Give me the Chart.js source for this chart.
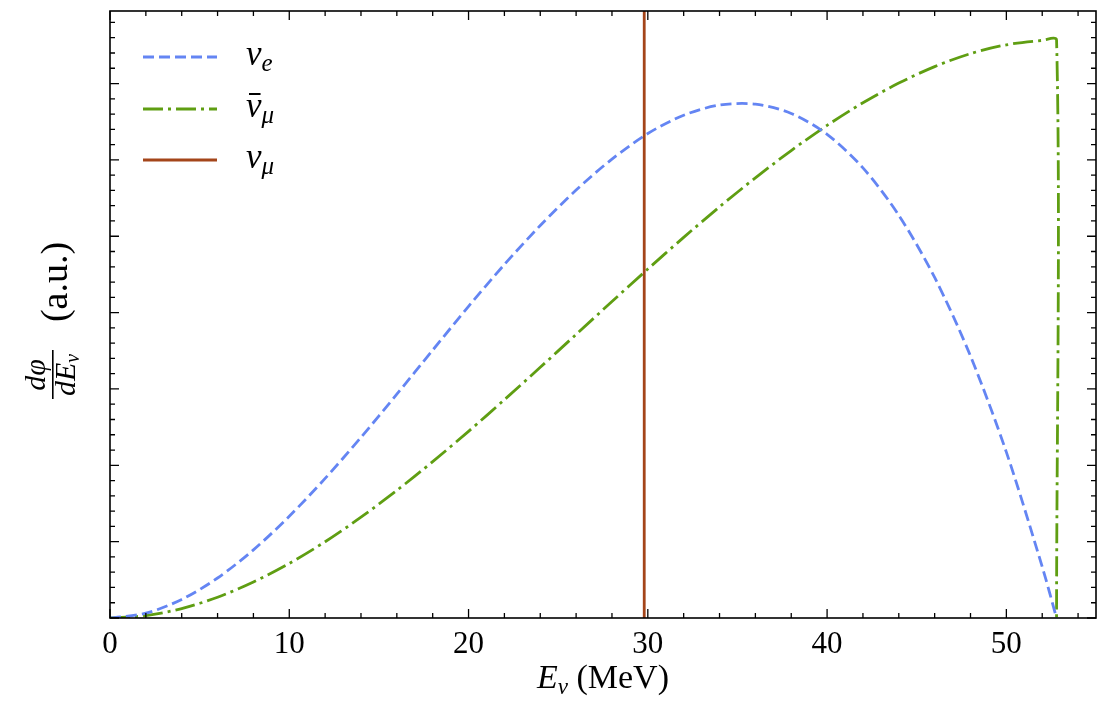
<!DOCTYPE html>
<html>
<head>
<meta charset="utf-8">
<script src="https://cdn.jsdelivr.net/npm/chart.js@4/dist/chart.umd.min.js"></script>
<style>
  body { margin: 0; background: #fff; }
  #wrap { width: 1117px; height: 710px; }
</style>
</head>
<body>
<div id="wrap"><canvas id="flux"></canvas></div>
<script>
// neutrino energies (MeV)
let energy = [0, 2, 4, 6, 8, 10, 12, 14, 16, 18, 20, 22, 24, 26, 28,
    30, 32, 34, 36, 38, 40, 42, 44, 46, 48, 50, 52, 52.8];

let nueFlux = [0, 0.063, 0.243, 0.524, 0.892, 1.332, 1.828, 2.366, 2.931, 3.508,
    4.082, 4.630, 5.140, 5.605, 6.010, 6.345, 6.585, 6.718, 6.730, 6.608,
    6.335, 5.895, 5.275, 4.460, 3.430, 2.172, 0.671, 0];

// anti-nu_mu ends with a sharp drop at the cutoff
let numubarEnergy = energy.concat([52.8]);
let numubarFlux = [0, 0.032, 0.124, 0.272, 0.471, 0.715, 0.999, 1.320, 1.671, 2.048,
    2.445, 2.859, 3.283, 3.714, 4.145, 4.570, 4.985, 5.385, 5.765, 6.122,
    6.452, 6.748, 7.006, 7.222, 7.392, 7.507, 7.565, 7.570, 0];

// monoenergetic nu_mu line
let numuEnergy = [29.8, 29.8];
let numuFlux = [0, 7.95];

let xTicks = [0, 10, 20, 30, 40, 50];

let serif = '"Liberation Serif", "DejaVu Serif", serif';
let blue = '#6485F3';
let green = '#5F9E12';
let brown = '#A4451A';

function pts(xs, ys) {
    return xs.map((x, i) => ({ x: x, y: ys[i] }));
}

// draws the legend with math-style labels
function legendText(ctx, x, y, sub, bar) {
    ctx.fillStyle = '#000';
    ctx.textBaseline = 'alphabetic';
    ctx.font = 'italic 35px ' + serif;
    ctx.fillText('ν', x, y);
    let w = ctx.measureText('ν').width;
    if (bar) {
        ctx.fillRect(x + 3, y - 24, w - 4, 2);
    }
    ctx.font = 'italic 25px ' + serif;
    ctx.fillText(sub, x + w, y + 6);
}

let framePlugin = {
    id: 'frame',
    afterDraw(chart) {
        let ctx = chart.ctx;
        let a = chart.chartArea;
        let xs = chart.scales.x;
        let ys = chart.scales.y;
        ctx.save();
        ctx.strokeStyle = '#000';
        ctx.lineWidth = 1.3;
        ctx.beginPath();
        for (let v = 0; v <= 54; v += 2) {
            let px = xs.getPixelForValue(v);
            let len = v % 10 === 0 ? 9 : 5;
            ctx.moveTo(px, a.bottom); ctx.lineTo(px, a.bottom - len);
            ctx.moveTo(px, a.top); ctx.lineTo(px, a.top + len);
        }
        for (let k = 0; k <= 39; k++) {
            let py = ys.getPixelForValue(k * 0.2);
            let len = k % 5 === 0 ? 9 : 5;
            ctx.moveTo(a.left, py); ctx.lineTo(a.left + len, py);
            ctx.moveTo(a.right, py); ctx.lineTo(a.right - len, py);
        }
        ctx.stroke();
        ctx.lineWidth = 1.6;
        ctx.strokeRect(a.left, a.top, a.right - a.left, a.bottom - a.top);

        // legend
        let rows = [
            { c: blue, d: [11, 5], sub: 'e', bar: false, y: 57 },
            { c: green, d: [20, 5, 3, 5], sub: 'μ', bar: true, y: 109 },
            { c: brown, d: [], sub: 'μ', bar: false, y: 160 }
        ];
        rows.forEach(r => {
            ctx.strokeStyle = r.c;
            ctx.lineWidth = 2.8;
            ctx.setLineDash(r.d);
            ctx.beginPath();
            ctx.moveTo(143, r.y); ctx.lineTo(217, r.y);
            ctx.stroke();
            ctx.setLineDash([]);
            legendText(ctx, 246, r.y + 8, r.sub, r.bar);
        });

        // x axis title
        ctx.fillStyle = '#000';
        ctx.textBaseline = 'alphabetic';
        let cx = (a.left + a.right) / 2;
        ctx.font = 'italic 34px ' + serif;
        let wE = ctx.measureText('E').width;
        ctx.font = 'italic 23px ' + serif;
        let wN = ctx.measureText('ν').width;
        ctx.font = '34px ' + serif;
        let wM = ctx.measureText(' (MeV)').width;
        let x0 = cx - (wE + wN + wM) / 2;
        ctx.font = 'italic 34px ' + serif;
        ctx.fillText('E', x0, 688);
        ctx.font = 'italic 23px ' + serif;
        ctx.fillText('ν', x0 + wE, 694);
        ctx.font = '34px ' + serif;
        ctx.fillText(' (MeV)', x0 + wE + wN, 688);

        // y axis title, rotated
        ctx.translate(53, 318);
        ctx.rotate(-Math.PI / 2);
        ctx.font = 'italic 30px ' + serif;
        let wNum = ctx.measureText('dφ').width;
        ctx.fillText('dφ', -57 - wNum / 2, -8);
        let wD = ctx.measureText('dE').width;
        ctx.font = 'italic 20px ' + serif;
        let wS = ctx.measureText('ν').width;
        let d0 = -57 - (wD + wS) / 2;
        ctx.font = 'italic 30px ' + serif;
        ctx.fillText('dE', d0, 22);
        ctx.font = 'italic 20px ' + serif;
        ctx.fillText('ν', d0 + wD, 26);
        ctx.fillRect(-81, -1, 49, 1.6);
        ctx.font = '38px ' + serif;
        let wA = ctx.measureText('(a.u.)').width;
        ctx.fillText('(a.u.)', 36 - wA / 2, 14);
        ctx.restore();
    }
};

let chart = new Chart(document.getElementById('flux'), {
    type: 'line',
    data: {
        datasets: [{
            label: 'nu_mu',
            data: pts(numuEnergy, numuFlux),
            borderColor: brown,
            borderWidth: 2.8,
            pointRadius: 0,
            tension: 0,
            order: 0
        }, {
            label: 'nu_e',
            data: pts(energy, nueFlux),
            borderColor: blue,
            borderWidth: 2.8,
            borderDash: [11, 5],
            pointRadius: 0,
            tension: 0.3,
            order: 1
        }, {
            label: 'nu_mu_bar',
            data: pts(numubarEnergy, numubarFlux),
            borderColor: green,
            borderWidth: 2.8,
            borderDash: [20, 5, 3, 5],
            pointRadius: 0,
            tension: 0.3,
            order: 2
        }]
    },
    options: {
        responsive: true,
        maintainAspectRatio: false,
        animation: false,
        layout: { padding: { top: 11, right: 21, left: 0, bottom: 0 } },
        plugins: {
            legend: { display: false },
            tooltip: { enabled: false }
        },
        scales: {
            x: {
                type: 'linear',
                min: 0,
                max: 55,
                afterFit(scale) { scale.height = 92; },
                afterBuildTicks(scale) {
                    scale.ticks = xTicks.map(v => ({ value: v }));
                },
                grid: { display: false, drawTicks: false },
                border: { display: false },
                ticks: {
                    color: '#000',
                    padding: 8,
                    maxRotation: 0,
                    font: { family: serif, size: 31 }
                }
            },
            y: {
                min: 0,
                max: 7.95,
                afterFit(scale) { scale.width = 110; },
                grid: { display: false, drawTicks: false },
                border: { display: false },
                ticks: { display: false }
            }
        }
    },
    plugins: [framePlugin]
});
</script>
</body>
</html>
